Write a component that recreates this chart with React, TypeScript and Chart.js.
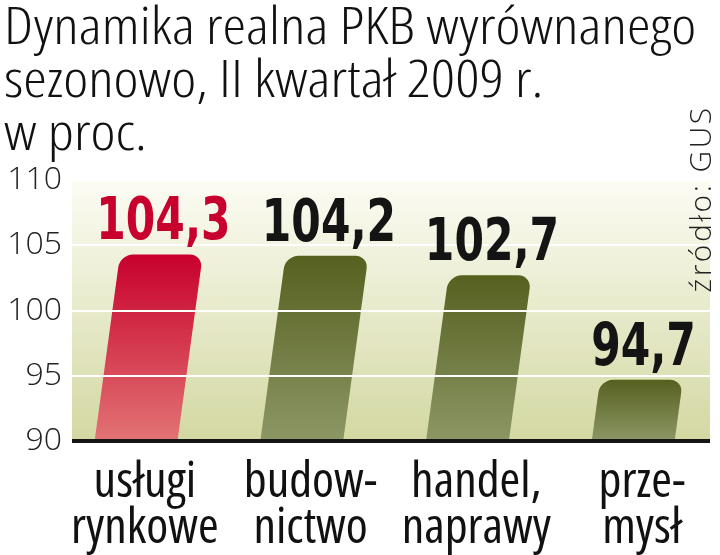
import { useEffect, useRef } from 'react';
import { Chart, registerables } from 'chart.js';

Chart.register(...registerables);

// ---- data ----
const titleLines = ['Dynamika realna PKB wyrównanego', 'sezonowo, II kwartał 2009 r.', 'w proc.'];
const categories = [
  ['usługi', 'rynkowe'],
  ['budow-', 'nictwo'],
  ['handel,', 'naprawy'],
  ['prze-', 'mysł'],
];
const values = [104.3, 104.2, 102.7, 94.7];
const yMin = 90;
const yMax = 110;
const yStep = 5;
const sourceText = 'źródło: GUS';

// ---- styles ----
const NARROW = '"Liberation Sans Narrow", "DejaVu Sans Condensed", "Liberation Sans", sans-serif';
const OPEN = '"Open Sans", "DejaVu Sans Condensed", sans-serif';
const barTopColors = ['#c8002c', '#56601f', '#56601f', '#56601f'];
const barBottomColors = ['#e27474', '#8c9766', '#8c9766', '#8c9766'];
const labelColors = ['#c8002d', '#141414', '#141414', '#141414'];
const SHEAR = -0.136;
const SHEAR_ORIGIN = 95;
const TITLE_STRETCH = 1.17;

const fmt = (v: number) => v.toFixed(1).replace('.', ',');

export default function App() {
  const ref = useRef<HTMLCanvasElement>(null);

  useEffect(() => {
    const canvas = ref.current!;

    const bgPlugin = {
      id: 'plotBg',
      beforeDraw(chart: any) {
        const { ctx, chartArea: a } = chart;
        const g = ctx.createLinearGradient(0, a.top, 0, a.bottom);
        g.addColorStop(0, '#fcfcf4');
        g.addColorStop(1, '#d3d8a2');
        ctx.save();
        ctx.fillStyle = g;
        ctx.fillRect(a.left, a.top, a.right - a.left, a.bottom - a.top);
        ctx.restore();
      },
    };

    // widen the (condensed) title font slightly: only the title is drawn in the z<=0 layers
    const titleStretchPlugin = {
      id: 'titleStretch',
      beforeDraw(chart: any) {
        const ctx = chart.ctx;
        const left = chart.titleBlock ? chart.titleBlock.left : 0;
        ctx.save();
        ctx.translate(left, 0);
        ctx.scale(TITLE_STRETCH, 1);
        ctx.translate(-left, 0);
      },
      beforeDatasetsDraw(chart: any) {
        chart.ctx.restore();
      },
    };

    const shearPlugin = {
      id: 'shearBars',
      beforeDatasetsDraw(chart: any) {
        const y0 = chart.scales.y.getPixelForValue(SHEAR_ORIGIN);
        chart.ctx.save();
        chart.ctx.transform(1, 0, SHEAR, 1, -SHEAR * y0, 0);
      },
      afterDatasetsDraw(chart: any) {
        chart.ctx.restore();
      },
      afterDraw(chart: any) {
        const ctx = chart.ctx;
        const y0 = chart.scales.y.getPixelForValue(SHEAR_ORIGIN);
        const meta = chart.getDatasetMeta(0);
        const sx = 0.8;
        meta.data.forEach((el: any, i: number) => {
          const x = el.x + SHEAR * (el.y - y0);
          ctx.save();
          ctx.translate(x + 2, el.y - 15);
          ctx.scale(sx, 1);
          ctx.font = `bold 59px ${NARROW}`;
          ctx.textAlign = 'center';
          ctx.textBaseline = 'alphabetic';
          ctx.fillStyle = labelColors[i];
          ctx.fillText(fmt(values[i]), 0, 0);
          ctx.restore();
        });

        ctx.save();
        ctx.translate(702, 199);
        ctx.rotate(-Math.PI / 2);
        ctx.font = `300 30px ${OPEN}`;
        (ctx as any).letterSpacing = '2.5px';
        ctx.textAlign = 'center';
        ctx.textBaseline = 'middle';
        ctx.fillStyle = '#222222';
        ctx.fillText(sourceText, 0, 0);
        ctx.restore();
      },
    };

    const chart = new Chart(canvas, {
      type: 'bar',
      data: {
        datasets: [
          {
            data: values.map((v, i) => ({ x: i, y: v })),
            base: yMin,
            backgroundColor: (c: any) => {
              const ch = c.chart;
              const { ctx, chartArea, scales } = ch;
              const i = c.dataIndex ?? 0;
              if (!chartArea || c.type !== 'data' || !c.parsed) return barTopColors[i];
              const top = scales.y.getPixelForValue(c.parsed.y);
              const bottom = scales.y.getPixelForValue(yMin);
              const g = ctx.createLinearGradient(0, top, 0, bottom);
              g.addColorStop(0, barTopColors[i]);
              g.addColorStop(1, barBottomColors[i]);
              return g;
            },
            borderRadius: { topLeft: 13, topRight: 13, bottomLeft: 0, bottomRight: 0 },
            borderSkipped: 'start',
            categoryPercentage: 1,
            barPercentage: 0.5,
            clip: false as any,
          } as any,
        ],
      },
      options: {
        animation: false,
        responsive: false,
        devicePixelRatio: 1,
        layout: { padding: { left: 4, right: 10, top: 0, bottom: 0 } },
        plugins: {
          legend: { display: false },
          tooltip: { enabled: false },
          title: {
            display: true,
            text: titleLines,
            align: 'start',
            color: '#111111',
            font: { family: OPEN, size: 51, weight: '300 condensed', lineHeight: 1.04 },
            padding: { top: 3, bottom: 18 },
          },
        },
        scales: {
          x: {
            type: 'linear',
            offset: false,
            min: -0.44,
            max: 3.41,
            grid: { display: false, drawTicks: false, offset: false },
            border: { display: false },
            ticks: {
              z: 1,
              stepSize: 1,
              includeBounds: false,
              autoSkip: false,
              maxRotation: 0,
              padding: 18,
              color: '#111111',
              font: { family: OPEN, size: 50, weight: '400 condensed', lineHeight: 0.93 },
              callback: (v: any) => (categories[v as number] ?? '') as any,
            },
            afterFit: (s: any) => {
              s.height = 114;
            },
          },
          y: {
            min: yMin,
            max: yMax,
            grid: {
              z: 1,
              drawTicks: false,
              color: (c: any) => (c.tick && c.tick.value === yMin ? '#151515' : '#ffffff'),
              lineWidth: (c: any) => (c.tick && c.tick.value === yMin ? 4 : 2),
            },
            border: { display: false },
            ticks: {
              z: 1,
              stepSize: yStep,
              padding: 10,
              color: '#222222',
              font: { family: OPEN, size: 32, weight: '300' },
            },
            afterFit: (s: any) => {
              s.width = 68;
            },
          },
        },
      } as any,
      plugins: [bgPlugin, titleStretchPlugin, shearPlugin],
    });

    return () => chart.destroy();
  }, []);

  return (
    <div style={{ position: 'absolute', left: 0, top: 0, width: 720, height: 555, background: '#ffffff' }}>
      <canvas ref={ref} width={720} height={555} style={{ width: 720, height: 555, display: 'block' }} />
    </div>
  );
}
